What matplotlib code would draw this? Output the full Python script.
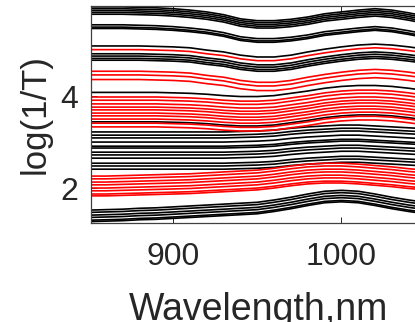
import matplotlib
matplotlib.use("Agg")
import matplotlib.pyplot as plt
import numpy as np

plt.rcParams["font.family"] = ["Liberation Sans", "DejaVu Sans"]

# Wavelength grid of the spectra (nm)
wavelength = [850, 860, 870, 880, 890, 900, 910, 920, 930, 940, 950,
              960, 970, 980, 990, 1000, 1010, 1020, 1030, 1040, 1050]

# Spectral shapes, log(1/T) relative to the value at 850 nm
shape_top = [0, 0, 0, -0.01, -0.02, -0.04, -0.07, -0.11, -0.17, -0.26, -0.30,
             -0.30, -0.27, -0.22, -0.15, -0.11, -0.07, -0.04, -0.07, -0.13, -0.20]
shape_upper = [0, 0, 0, 0, -0.01, -0.02, -0.04, -0.09, -0.13, -0.20, -0.24,
               -0.24, -0.20, -0.13, -0.07, -0.02, 0.02, 0.04, 0.02, -0.02, -0.07]
shape_mid = [0, 0, 0, 0, 0, -0.01, -0.02, -0.04, -0.07, -0.09, -0.09,
             -0.07, -0.02, 0.03, 0.09, 0.13, 0.15, 0.15, 0.13, 0.09, 0.04]
shape_lower = [0, 0, 0, 0, 0, 0, 0, 0, 0, 0.01, 0.02,
               0.04, 0.08, 0.11, 0.13, 0.15, 0.15, 0.13, 0.11, 0.09, 0.07]
shape_red_low = [0, 0, 0.01, 0.02, 0.03, 0.04, 0.05, 0.07, 0.09, 0.11, 0.13,
                 0.17, 0.22, 0.26, 0.28, 0.28, 0.26, 0.23, 0.20, 0.16, 0.13]
shape_bottom = [0, 0.01, 0.02, 0.04, 0.05, 0.07, 0.09, 0.11, 0.13, 0.15, 0.17,
                0.22, 0.28, 0.35, 0.41, 0.43, 0.41, 0.35, 0.28, 0.22, 0.17]

# log(1/T) of each sample at 850 nm
black_top = [5.94, 5.90, 5.86, 5.82, 5.78, 5.55, 5.50, 5.47]
black_upper = [5.09, 4.92, 4.87, 4.82, 4.78]
red_upper = [5.01, 4.54, 4.46, 4.36]
black_mid = [4.08, 3.44]
red_mid = [3.98, 3.91, 3.83, 3.76, 3.70, 3.63, 3.57, 3.50, 3.41, 3.33]
black_lower = [3.22, 3.15, 3.09, 3.00, 2.91, 2.87, 2.78, 2.72, 2.65,
               2.54, 2.48, 2.41]
red_low = [2.26, 2.20, 2.13, 2.07, 2.00, 1.94, 1.87, 1.83]
black_bottom = [1.52, 1.47, 1.41, 1.36, 1.30, 1.27]

groups = [
    (black_top, shape_top, "black"),
    (black_upper, shape_upper, "black"),
    (black_mid, shape_mid, "black"),
    (black_lower, shape_lower, "black"),
    (black_bottom, shape_bottom, "black"),
    (red_upper, shape_upper, "#ff0000"),
    (red_mid, shape_mid, "#ff0000"),
    (red_low, shape_red_low, "#ff0000"),
]

fig = plt.figure(figsize=(4.15, 3.22), dpi=100)
ax = fig.add_axes([0.2185, 0.3075, 0.807, 0.674])

wl = np.array(wavelength)
for starts, shape, color in groups:
    shape = np.array(shape)
    for s in starts:
        ax.plot(wl, s + shape, color=color, lw=1.2)

ax.set_xlim(851, 1050)
ax.set_ylim(1.24, 5.96)
ax.set_xticks([900, 1000])
ax.set_yticks([2, 4])
ax.tick_params(direction="in", length=4, width=0.7, top=True, right=True,
               labelsize=23, colors="#262626")
ax.tick_params(axis="x", pad=14)
ax.tick_params(axis="y", pad=9)
for sp in ax.spines.values():
    sp.set_color("#404040")
    sp.set_linewidth(0.9)

ax.set_xlabel("Wavelength,nm", fontsize=27, color="#262626", labelpad=14)
ax.set_ylabel("log(1/T)", fontsize=25, color="#262626", labelpad=6)

fig.savefig("out.png", dpi=100)
